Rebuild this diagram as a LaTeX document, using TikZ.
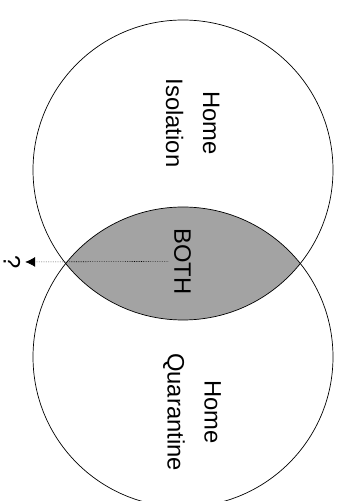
\documentclass[tikz,border=0pt]{standalone}
\usepackage{fontspec}
\setmainfont{Liberation Sans}
\usetikzlibrary{arrows.meta}

\newcommand{\vennfont}{\fontsize{20.3pt}{31.5pt}\selectfont}
\tikzset{
  vennlabel/.style={rotate=-90, align=center, font=\vennfont, inner sep=1pt},
  setline/.style={line width=0.6pt}
}

\begin{document}
\begin{tikzpicture}
\useasboundingbox (0,0) rectangle (10.35,15.03);
% overlap of the two sets
\begin{scope}
  \clip (5.49,9.93) circle (4.5);
  \fill[black!36] (5.49,4.32) circle (4.5);
\end{scope}
\draw[setline] (5.49,9.93) circle (4.5);
\draw[setline] (5.49,4.32) circle (4.5);
\node[vennlabel] (iso)  at (5.78,11.34) {Home\\Isolation};
\node[vennlabel] (quar) at (5.76,2.67) {Home\\Quarantine};
\node[vennlabel] (both) at (5.48,7.19) {BOTH};
\node[vennlabel] (qmark) at (0.36,7.17) {?};
\draw[densely dotted, line width=0.5pt, shorten <=4pt, shorten >=3pt,
      -{Latex[length=3mm,width=3mm]}] (both.south) -- (qmark.north);
\end{tikzpicture}
\end{document}
